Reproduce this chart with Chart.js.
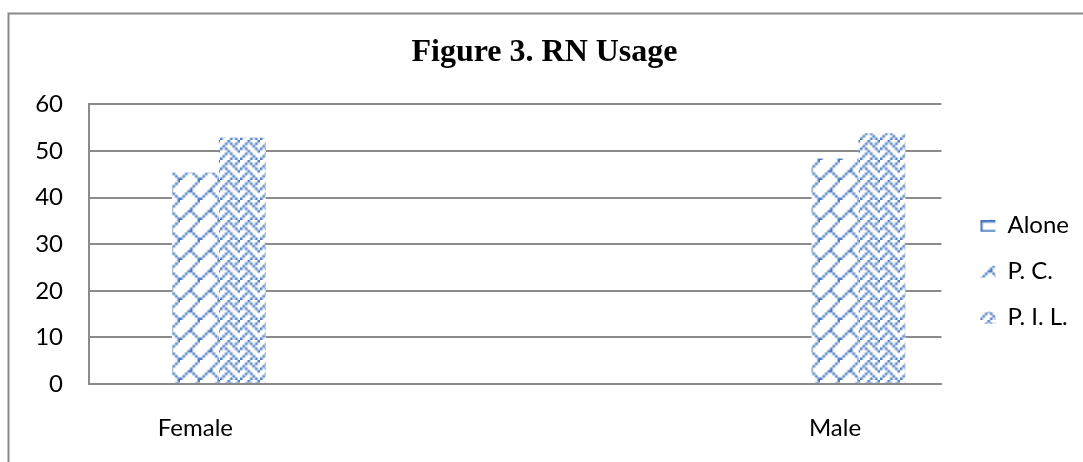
<!DOCTYPE html>
<html>
<head>
<meta charset="utf-8">
<script src="https://cdn.jsdelivr.net/npm/chart.js@4.4.1/dist/chart.umd.min.js"></script>
<style>
  html, body { margin: 0; padding: 0; background: #fff; }
  #wrap { width: 1083px; height: 462px; }
</style>
</head>
<body>
<div id="wrap"><canvas id="usageChart"></canvas></div>
<script>
// values
const categories = ['Female', 'Male'];
const seriesNames = ['Alone', 'P. C.', 'P. I. L.'];
const aloneValues = [0, 0];
const pcValues = [45.4, 48.4];
const pilValues = [52.9, 53.8];
const yTicks = [0, 10, 20, 30, 40, 50, 60];

const BLUE = 'rgb(68,118,190)';
const GRID = '#8b8b8b';
const SANS = 'Lato, "Open Sans", sans-serif';

// 8x8 hatch bitmaps, one byte per row, high bit = left pixel
const HATCH_BRICK_H = [0xff, 0x80, 0x80, 0x80, 0xff, 0x08, 0x08, 0x08];
const HATCH_BRICK_DIAG = [0x01, 0x02, 0x04, 0x08, 0x18, 0x24, 0x42, 0x81];
const HATCH_WEAVE = [0x11, 0x2a, 0x44, 0xa2, 0x11, 0x28, 0x44, 0x8a];

const canvas = document.getElementById('usageChart');

// build the bitmap at 1px, then blow it up with smoothing so it looks
// like the soft, enlarged Office hatch in the picture
function makeHatch(rows, size) {
    const small = document.createElement('canvas');
    small.width = small.height = 8;
    const s = small.getContext('2d');
    s.fillStyle = '#fff';
    s.fillRect(0, 0, 8, 8);
    s.fillStyle = BLUE;
    rows.forEach(function(bits, y) {
        for (let x = 0; x < 8; x++) {
            if (bits & (0x80 >> x)) s.fillRect(x, y, 1, 1);
        }
    });
    const c = document.createElement('canvas');
    c.width = c.height = size;
    const g = c.getContext('2d');
    g.imageSmoothingEnabled = true;
    g.imageSmoothingQuality = 'low';
    g.drawImage(small, 0, 0, size, size);
    return canvas.getContext('2d').createPattern(c, 'repeat');
}

function points(values) {
    return categories.map(function(c, i) { return { x: i, y: values[i] }; });
}

// grey frame round the chart (left and top edges show in the picture)
const frame = {
    id: 'frame',
    beforeDraw(chart) {
        const g = chart.ctx;
        g.save();
        g.fillStyle = '#fff';
        g.fillRect(0, 0, chart.width, chart.height);
        g.strokeStyle = '#898989';
        g.lineWidth = 2;
        g.beginPath();
        g.moveTo(8.5, chart.height);
        g.lineTo(8.5, 13.5);
        g.lineTo(chart.width, 13.5);
        g.stroke();
        g.restore();
    }
};

new Chart(canvas, {
    type: 'bar',
    data: {
        datasets: [{
            label: seriesNames[0],
            data: points(aloneValues),
            backgroundColor: makeHatch(HATCH_BRICK_H, 20)
        }, {
            label: seriesNames[1],
            data: points(pcValues),
            backgroundColor: makeHatch(HATCH_BRICK_DIAG, 20)
        }, {
            label: seriesNames[2],
            data: points(pilValues),
            backgroundColor: makeHatch(HATCH_WEAVE, 20)
        }]
    },
    options: {
        responsive: true,
        maintainAspectRatio: false,
        animation: false,
        devicePixelRatio: 1,
        datasets: {
            bar: { categoryPercentage: 0.22, barPercentage: 1, borderWidth: 0 }
        },
        layout: { padding: { left: 10, right: 4, top: 16, bottom: 19 } },
        plugins: {
            title: {
                display: true,
                text: 'Figure 3. RN Usage',
                color: '#000',
                font: { family: '"Liberation Serif", "Times New Roman", serif', size: 32, weight: 'bold' },
                padding: { top: 18, bottom: 32 }
            },
            legend: {
                position: 'right',
                title: { display: true, text: '', padding: { top: 35, bottom: 35 } },
                labels: {
                    boxWidth: 15,
                    boxHeight: 12,
                    padding: 22,
                    color: '#000',
                    font: { family: SANS, size: 24 }
                }
            },
            tooltip: { enabled: false }
        },
        scales: {
            x: {
                type: 'linear',
                bounds: 'data',
                offset: false,
                min: -0.1664,
                max: 1.1664,
                grid: { display: false, drawTicks: false, offset: false },
                border: { color: GRID, width: 2 },
                ticks: {
                    maxRotation: 0,
                    autoSkip: false,
                    padding: 30,
                    color: '#000',
                    font: { family: SANS, size: 24 },
                    callback: function(v) { return categories[v] !== undefined ? categories[v] : ''; }
                },
                // one tick per category
                afterBuildTicks: function(s) { s.ticks = categories.map(function(c, i) { return { value: i }; }); },
                afterFit: function(s) { s.height = 59; }
            },
            y: {
                min: 0,
                max: 60,
                grid: { color: GRID, lineWidth: 2, drawTicks: false },
                border: { color: GRID, width: 2 },
                ticks: {
                    padding: 26,
                    color: '#000',
                    font: { family: SANS, size: 24 }
                },
                afterBuildTicks: function(s) { s.ticks = yTicks.map(function(v) { return { value: v }; }); },
                afterFit: function(s) { s.width = 79; }
            },
            // empty strip between plot and legend
            gap: {
                type: 'linear',
                position: 'right',
                grid: { display: false },
                border: { display: false },
                ticks: { display: false },
                afterFit: function(s) { s.width = 17; }
            }
        }
    },
    plugins: [frame]
});
</script>
</body>
</html>
